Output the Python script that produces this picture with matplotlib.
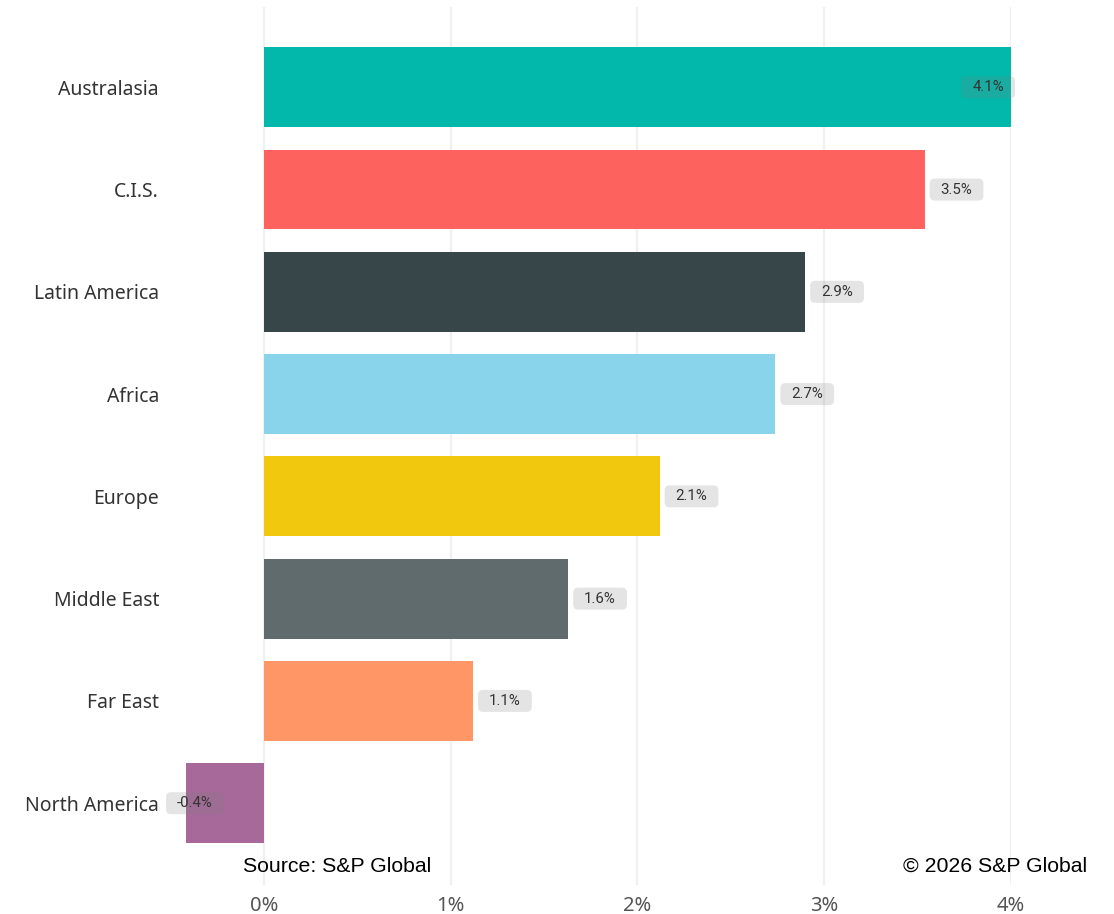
import matplotlib
matplotlib.use("Agg")
import matplotlib.pyplot as plt
from matplotlib.patches import FancyBboxPatch
from matplotlib.transforms import IdentityTransform
from matplotlib.ticker import FuncFormatter

# growth by region, percent
regions = ["Australasia", "C.I.S.", "Latin America", "Africa", "Europe",
           "Middle East", "Far East", "North America"]
growth = [4.1, 3.54, 2.9, 2.74, 2.12, 1.63, 1.12, -0.42]
colors = ["#01B8AA", "#FD625E", "#374649", "#8AD4EB", "#F2C80F",
          "#5F6B6D", "#FE9666", "#A66999"]
xticks = [0, 1, 2, 3, 4]

W, H = 1114, 914
xmin, xmax = -0.525, 4.0
x0, x4 = 264, 1010.5
ppu = (x4 - x0) / 4
left_px = x0 + xmin * ppu
right_px = x0 + xmax * ppu

fig = plt.figure(figsize=(W / 100, H / 100), dpi=100)
ax = fig.add_axes([left_px / W, 1 - 885 / H, (right_px - left_px) / W, (885 - 7) / H])

pos = list(range(len(regions)))
ax.barh(pos, growth, height=0.78, color=colors, zorder=2)
ax.set_xlim(xmin, xmax)
ax.set_ylim(7.8, -0.785)

ax.set_yticks(pos)
ax.set_yticklabels(regions, fontsize=14, color="#333333", family="Noto Sans")
ax.set_xticks(xticks)
ax.xaxis.set_major_formatter(FuncFormatter(lambda v, p: f"{v:.0f}%"))
for t in ax.get_xticklabels():
    t.set_fontsize(14.5)
    t.set_color("#555555")
    t.set_family("Noto Sans")
ax.tick_params(length=0)
ax.tick_params(axis="x", pad=8)
ax.yaxis.set_tick_params(pad=5)
ax.grid(axis="x", color="#f0f0f0", linewidth=1.6, zorder=0)
for s in ax.spines.values():
    s.set_visible(False)

# value labels in rounded boxes, kept inside the plot area (pixel coords)
fig.canvas.draw()
rend = fig.canvas.get_renderer()
to_data = ax.transData.inverted()
padx, boxh, gap = 11, 22, 5
for i, v in enumerate(growth):
    t = ax.text(0, i, f"{v:.1f}%", fontsize=10.8, family="Roboto", color="#333333",
                va="center", ha="center", zorder=4, clip_on=False)
    bb = t.get_window_extent(rend)
    boxw = bb.width + 2 * padx
    end, yc = ax.transData.transform((v, i))
    if v >= 0:
        bx = min(end + gap, right_px + 4.5 - boxw)
    else:
        bx = max(end - gap - boxw, left_px)
    box = FancyBboxPatch((bx, yc - boxh / 2), boxw, boxh,
                         boxstyle="round,pad=0,rounding_size=5",
                         fc="#808080", ec="none", alpha=0.21, zorder=3,
                         transform=IdentityTransform(), clip_on=False)
    ax.add_artist(box)
    t.set_x(to_data.transform((bx + boxw / 2, yc))[0])

fig.text(243 / W, 1 - 866.5 / H, "Source: S&P Global", fontsize=15.3,
         family="Liberation Sans", color="black", va="center", ha="left")
fig.text(1087 / W, 1 - 866.5 / H, "\u00a9 2026 S&P Global", fontsize=15.3,
         family="Liberation Sans", color="black", va="center", ha="right")

fig.savefig("out.png", dpi=100, facecolor="white")
